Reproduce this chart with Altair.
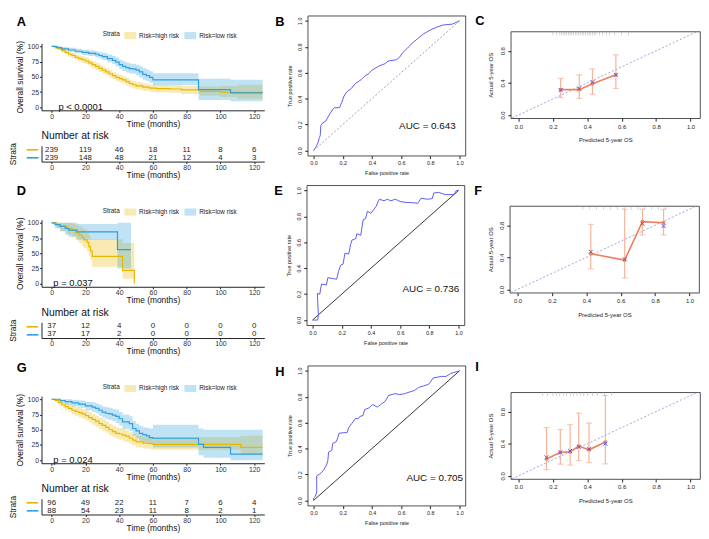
import altair as alt
import pandas as pd

FONT = "Liberation Sans"
HIGH_C = "#E7B800"
LOW_C = "#2E9FDF"
GROUPS = ["Risk=high risk", "Risk=low risk"]
TIME_TICKS = [0, 20, 40, 60, 80, 100, 120]

# ---------------- Kaplan-Meier data (time, survival %, CI low, CI high) ----------------
a_hi_t = [0, 2, 4, 6, 8, 10, 12, 14, 16, 18, 20, 22, 24, 26, 28, 30, 32, 34, 36, 38, 40, 42, 44, 46, 48, 50, 54, 58, 62, 70, 77, 88, 100, 110, 125]
a_hi_s = [100, 98, 96, 93, 90, 87, 85, 82, 80, 78, 76, 73, 70, 67, 64, 61, 58, 55, 52, 49, 47, 45, 42, 39, 37, 35, 33, 31.5, 30.5, 30, 28.5, 26, 25, 24.5, 24.5]
a_hi_lo = [100, 96, 93.5, 90, 86.5, 83, 80.5, 77, 75, 72.5, 70.5, 67.5, 64, 61, 58, 55, 52, 49, 46, 43, 41, 39, 36, 33, 31, 29, 27, 25.5, 24.5, 24, 22, 19, 17, 14, 14]
a_hi_hi = [100, 100, 98.5, 96, 93.5, 91, 89.5, 87, 85, 83.5, 81.5, 78.5, 76, 73, 70, 67, 64, 61, 58, 55, 53, 51, 48, 45, 43, 41, 39, 37.5, 36.5, 36, 35, 34, 35, 37, 37]
a_lo_t = [0, 3, 6, 10, 14, 18, 22, 26, 28, 30, 33, 36, 38, 40, 42, 44, 46, 48, 50, 52, 54, 56, 58, 60, 87, 106, 125]
a_lo_s = [100, 98, 96, 94, 92, 90, 88.5, 87, 85, 83, 80, 77, 74, 70, 67, 65, 63.5, 63, 61, 58, 54, 52, 49, 45, 29, 23.5, 23.5]
a_lo_lo = [100, 96, 93.5, 91, 88.5, 86, 84, 82, 80, 77.5, 74, 70.5, 67, 63, 59.5, 57, 55.5, 55, 52.5, 49, 45, 43, 40, 36, 12, 10, 10]
a_lo_hi = [100, 100, 99, 97.5, 96, 94.5, 93, 92, 90.5, 89, 86.5, 84, 81.5, 78, 75.5, 73.5, 72, 71.5, 70, 67.5, 64, 62, 59, 56, 47, 45, 45]

d_hi_t = [0, 3, 5, 9, 12, 14, 16, 18, 19, 21, 22, 23, 24, 42, 49]
d_hi_s = [100, 97, 94, 91, 88, 84, 80, 76, 72, 68, 61, 54, 45, 22, 0]
d_hi_lo = [100, 91, 86, 81, 77, 72, 67, 62, 58, 53, 46, 39, 28, 8, 0]
d_hi_hi = [100, 100, 100, 100, 99, 97, 94, 92, 89, 86, 80, 74, 73, 67, 0]
d_lo_t = [0, 2, 5, 8, 10, 15, 39, 47]
d_lo_s = [100, 97, 94, 91, 88, 85, 56, 56]
d_lo_lo = [100, 91, 86, 81, 77, 72, 25, 25]
d_lo_hi = [100, 100, 100, 100, 100, 98, 100, 100]

g_hi_t = [0, 2, 4, 6, 8, 10, 12, 14, 16, 18, 20, 22, 24, 26, 28, 30, 32, 34, 36, 38, 40, 42, 44, 46, 48, 50, 54, 58, 60, 112, 125]
g_hi_s = [100, 98, 95, 91, 88, 85, 82, 80, 78, 76, 73, 70, 67, 64, 60, 57, 54, 50, 47, 44, 43, 41, 39, 36, 33, 30, 28, 27, 26, 21, 21]
g_hi_lo = [100, 95, 91, 86, 82, 79, 75, 73, 70, 68, 65, 62, 58, 55, 51, 48, 45, 41, 38, 35, 34, 32, 30, 27, 24, 21, 19, 18, 17, 8, 8]
g_hi_hi = [100, 100, 99, 96, 94, 92, 89, 87, 86, 84, 82, 79, 76, 73, 70, 67, 64, 60, 57, 54, 53, 51, 49, 46, 43, 40, 38, 37, 38, 40, 40]
g_lo_t = [0, 5, 8, 12, 16, 20, 24, 26, 28, 30, 32, 34, 36, 38, 40, 42, 46, 48, 50, 52, 54, 56, 58, 60, 87, 90, 106, 125]
g_lo_s = [100, 98, 96, 94, 92, 89, 87, 85, 82, 79, 77, 76, 74, 72, 68, 63, 60, 52, 48, 44, 42, 40, 37, 36, 26, 21, 10, 10]
g_lo_lo = [100, 94, 91, 88, 86, 82, 79, 77, 73, 70, 67, 66, 64, 61, 57, 51, 48, 40, 36, 32, 30, 29, 26, 21, 8, 4, 0, 0]
g_lo_hi = [100, 100, 100, 99, 98, 96, 95, 93, 91, 88, 87, 86, 84, 83, 79, 75, 72, 64, 60, 56, 54, 53, 52, 58, 52, 50, 50, 50]

# numbers at risk
a_risk_hi = [239, 119, 46, 18, 11, 8, 6]
a_risk_lo = [239, 148, 48, 21, 12, 4, 3]
d_risk_hi = [37, 12, 4, 0, 0, 0, 0]
d_risk_lo = [37, 17, 2, 0, 0, 0, 0]
g_risk_hi = [96, 49, 22, 11, 7, 6, 4]
g_risk_lo = [88, 54, 23, 11, 8, 2, 1]

# ---------------- ROC data ----------------
b_fpr = [0, 0.018, 0.033, 0.04, 0.046, 0.05, 0.06, 0.084, 0.095, 0.116, 0.134, 0.143, 0.178, 0.193, 0.209, 0.226, 0.26, 0.29, 0.325, 0.347, 0.38, 0.40, 0.446, 0.49, 0.51, 0.567, 0.59, 0.61, 0.644, 0.677, 0.71, 0.754, 0.80, 0.84, 0.886, 0.95, 1.0]
b_tpr = [0, 0.03, 0.066, 0.10, 0.115, 0.19, 0.21, 0.226, 0.25, 0.29, 0.32, 0.33, 0.33, 0.37, 0.42, 0.45, 0.48, 0.52, 0.545, 0.57, 0.595, 0.62, 0.65, 0.67, 0.69, 0.70, 0.72, 0.755, 0.79, 0.83, 0.86, 0.90, 0.93, 0.95, 0.968, 0.975, 1.0]
e_fpr = [0, 0.035, 0.04, 0.033, 0.05, 0.055, 0.062, 0.095, 0.105, 0.14, 0.165, 0.178, 0.193, 0.209, 0.222, 0.248, 0.26, 0.27, 0.297, 0.303, 0.33, 0.347, 0.363, 0.376, 0.40, 0.435, 0.457, 0.49, 0.512, 0.536, 0.567, 0.60, 0.633, 0.688, 0.721, 0.743, 0.785, 0.82, 0.83, 0.864, 0.908, 0.969, 0.985, 1.0]
e_tpr = [0, 0, 0.036, 0.206, 0.199, 0.24, 0.278, 0.271, 0.327, 0.32, 0.315, 0.375, 0.424, 0.431, 0.516, 0.509, 0.58, 0.617, 0.629, 0.666, 0.654, 0.775, 0.782, 0.84, 0.823, 0.876, 0.932, 0.92, 0.932, 0.92, 0.932, 0.915, 0.908, 0.905, 0.901, 0.94, 0.932, 0.937, 0.98, 0.985, 0.968, 0.968, 1.0, 1.0]
h_fpr = [0, 0, 0.011, 0.022, 0.022, 0.022, 0.044, 0.066, 0.088, 0.098, 0.103, 0.125, 0.131, 0.153, 0.164, 0.175, 0.208, 0.23, 0.24, 0.263, 0.285, 0.306, 0.317, 0.339, 0.35, 0.383, 0.405, 0.438, 0.46, 0.49, 0.514, 0.558, 0.591, 0.624, 0.656, 0.69, 0.72, 0.755, 0.788, 0.82, 0.853, 0.875, 0.908, 0.94, 1.0]
h_tpr = [0, 0.017, 0.029, 0.065, 0.125, 0.19, 0.205, 0.229, 0.27, 0.306, 0.373, 0.386, 0.44, 0.45, 0.475, 0.518, 0.523, 0.523, 0.56, 0.595, 0.631, 0.631, 0.648, 0.655, 0.70, 0.716, 0.74, 0.72, 0.74, 0.764, 0.81, 0.824, 0.817, 0.824, 0.836, 0.848, 0.872, 0.884, 0.896, 0.945, 0.952, 0.957, 0.957, 0.98, 1.0]
diag_line = [0, 1]

# ---------------- Calibration data ----------------
c_pred = [0.245, 0.353, 0.43, 0.566]
c_obs = [0.316, 0.316, 0.39, 0.50]
c_corr = [0.31, 0.33, 0.41, 0.50]
c_lo = [0.217, 0.205, 0.257, 0.33]
c_hi = [0.455, 0.50, 0.573, 0.75]
c_rug = [0.20, 0.22, 0.24, 0.25, 0.26, 0.27, 0.28, 0.29, 0.30, 0.31, 0.32, 0.33, 0.34, 0.35, 0.36, 0.37, 0.38, 0.39, 0.40, 0.41, 0.42, 0.43, 0.44, 0.45, 0.47, 0.49, 0.51, 0.53, 0.56, 0.60, 0.64]
f_pred = [0.426, 0.623, 0.726, 0.849]
f_obs = [0.445, 0.366, 0.845, 0.83]
f_corr = [0.47, 0.377, 0.82, 0.79]
f_lo = [0.257, 0.143, 0.68, 0.68]
f_hi = [0.81, 1.0, 1.0, 1.0]
f_rug = [0.38, 0.42, 0.46, 0.50, 0.54, 0.58, 0.62, 0.66, 0.70, 0.74, 0.78, 0.82, 0.86]
i_pred = [0.163, 0.243, 0.30, 0.35, 0.41, 0.505]
i_obs = [0.21, 0.294, 0.298, 0.37, 0.324, 0.42]
i_corr = [0.23, 0.29, 0.31, 0.36, 0.336, 0.40]
i_lo = [0.076, 0.145, 0.134, 0.19, 0.164, 0.149]
i_hi = [0.60, 0.576, 0.637, 0.78, 0.656, 1.0]
i_rug = [0.14, 0.17, 0.20, 0.22, 0.24, 0.26, 0.28, 0.30, 0.32, 0.34, 0.36, 0.38, 0.40, 0.43, 0.46, 0.50, 0.54]
cal_diag = [-0.1, 1.1]

# ---------------- sizes ----------------
KM_W, KM_H = 226, 68
RISK_H = 16
ROC_W, ROC_H = 160, 142
CAL_W, CAL_H = 192, 88

x_km = alt.Scale(domain=[-6, 126], nice=False, zero=False)
y_km = alt.Scale(domain=[-5, 105], nice=False, zero=False)


def ind(c):
    return c.resolve_scale(fill="independent", stroke="independent").resolve_legend(
        fill="independent", stroke="independent")


def spacer():
    return alt.Chart(pd.DataFrame({"v": [0]})).mark_point(opacity=0, size=1).encode(
        x=alt.value(0), y=alt.value(0)).properties(width=1, height=1)


def letter_title(letter, dx, dy=0, offset=4):
    return alt.TitleParams(letter, anchor="start", frame="group", dx=dx, dy=dy, offset=offset,
                           fontSize=13, fontWeight="bold", font=FONT, color="#000")


def km_axis_x():
    return alt.Axis(values=TIME_TICKS, title="Time (months)", labelFontSize=7, titleFontSize=8.5,
                    tickSize=2, labelPadding=0, titlePadding=0, grid=False, domainColor="#222",
                    tickColor="#222", labelColor="#333", titleColor="#111", titleFontWeight="normal")


def km_axis_y():
    return alt.Axis(values=[0, 25, 50, 75, 100], title="Overall survival (%)", labelFontSize=7,
                    titleFontSize=8.5, tickSize=2, labelPadding=1, titlePadding=3, grid=False,
                    domainColor="#222", tickColor="#222", labelColor="#333", titleColor="#111",
                    titleFontWeight="normal")


def km_frame(hi, lo):
    rows = []
    for g, (ts, ss, ls, hs) in zip(GROUPS, [hi, lo]):
        for t, s, l, h in zip(ts, ss, ls, hs):
            rows.append({"group": g, "t": t, "s": s, "lo": l, "hi": h})
    return pd.DataFrame(rows)


LEG = dict(orient="none", legendX=62, legendY=-14, direction="horizontal", titleOrient="left",
           title="Strata", titleFontSize=6.5, titleFontWeight="normal", labelFontSize=6.5,
           columnPadding=5, titlePadding=4, labelOffset=3, symbolSize=144, labelColor="#222",
           titleColor="#222")


def km_chart(letter, hi, lo, pval, pval_x, tdy):
    df = km_frame(hi, lo)
    base = alt.Chart(df)
    x = alt.X("t:Q", scale=x_km, axis=km_axis_x())
    band = base.mark_area(interpolate="step-after", opacity=0.3).encode(
        x=x,
        y=alt.Y("lo:Q", scale=y_km, axis=km_axis_y()),
        y2="hi:Q",
        fill=alt.Fill("group:N", scale=alt.Scale(domain=GROUPS, range=[HIGH_C, LOW_C]),
                      legend=alt.Legend(symbolType="M-1,-0.6H1V0.6H-1Z", symbolOpacity=0.3,
                                        symbolStrokeWidth=0, **LEG)),
    )
    line = base.mark_line(interpolate="step-after", strokeWidth=1.2).encode(
        x=x,
        y=alt.Y("s:Q", scale=y_km, axis=km_axis_y()),
        stroke=alt.Stroke("group:N", scale=alt.Scale(domain=GROUPS, range=[HIGH_C, LOW_C]),
                          legend=alt.Legend(symbolType="M-1,0H1", symbolStrokeWidth=1.5, **LEG)),
    )
    ptxt = alt.Chart(pd.DataFrame({"t": [pval_x], "s": [1], "label": [pval]})).mark_text(
        align="left", baseline="middle", fontSize=9.5, font=FONT, color="#111"
    ).encode(x=alt.X("t:Q", scale=x_km, axis=km_axis_x()),
             y=alt.Y("s:Q", scale=y_km, axis=km_axis_y()), text="label:N")
    return alt.layer(band, line, ptxt).properties(
        width=KM_W, height=KM_H, title=letter_title(letter, dx=-25, dy=tdy))


def risk_chart(hi_n, lo_n):
    df = pd.DataFrame({"group": [GROUPS[0]] * 7 + [GROUPS[1]] * 7,
                       "t": TIME_TICKS * 2, "n": hi_n + lo_n})
    return alt.Chart(df).mark_text(fontSize=8, font=FONT, color="#222").encode(
        x=alt.X("t:Q", scale=x_km, axis=km_axis_x()),
        y=alt.Y("group:N", scale=alt.Scale(domain=GROUPS, padding=0.5),
                axis=alt.Axis(title="Strata", labelExpr="'━━'",
                              labelColor=alt.condition(f"datum.value == '{GROUPS[0]}'",
                                                       alt.value(HIGH_C), alt.value(LOW_C)),
                              labelFont="DejaVu Sans", labelFontSize=9.5, labelFontWeight="bold",
                              ticks=False, labelPadding=4, titleFontSize=8.5,
                              titleFontWeight="normal", titlePadding=9, domainColor="#222",
                              titleColor="#111")),
        text="n:Q",
    ).properties(width=KM_W, height=RISK_H,
                 title=alt.TitleParams("Number at risk", anchor="start", frame="group",
                                       fontSize=10.5, fontWeight="normal", offset=1,
                                       font=FONT, color="#111"))


r_scale = alt.Scale(domain=[-0.04, 1.04], nice=False, zero=False)


def small_axis(title, vertical, size=5.5, tpad=5):
    return alt.Axis(values=[0, 0.2, 0.4, 0.6, 0.8, 1.0], format=".1f", title=title,
                    labelFontSize=size, titleFontSize=size, titleFontWeight="normal", tickSize=3,
                    domain=False, grid=False, labelPadding=2, titlePadding=tpad,
                    labelAngle=270 if vertical else 0, tickColor="#222", labelColor="#222",
                    titleColor="#222")


def roc_chart(letter, fpr, tpr, auc, auc_x, auc_y, diag_color, dashed):
    df = pd.DataFrame({"fpr": fpr, "tpr": tpr, "i": list(range(len(fpr)))})
    ddf = pd.DataFrame({"fpr": diag_line, "tpr": diag_line})
    x = alt.X("fpr:Q", scale=r_scale, axis=small_axis("False positive rate", False))
    y = alt.Y("tpr:Q", scale=r_scale, axis=small_axis("True positive rate", True))
    dkw = dict(color=diag_color, strokeWidth=0.8)
    if dashed:
        dkw["strokeDash"] = [2, 2]
    d = alt.Chart(ddf).mark_line(**dkw).encode(x=x, y=y)
    ln = alt.Chart(df).mark_line(color="#5C5CF5", strokeWidth=1).encode(x=x, y=y, order="i:Q")
    t = alt.Chart(pd.DataFrame({"fpr": [auc_x], "tpr": [auc_y], "label": [f"AUC = {auc}"]})).mark_text(
        fontSize=10, font=FONT, color="#111").encode(x=x, y=y, text="label:N")
    return alt.layer(d, ln, t).properties(
        width=ROC_W, height=ROC_H, view=alt.ViewBackground(stroke="#222", strokeWidth=0.8),
        title=letter_title(letter, dx=-33, offset=-13))


cx_scale = alt.Scale(domain=[-0.045, 1.055], nice=False, zero=False)
cy_scale = alt.Scale(domain=[-0.04, 1.04], nice=False, zero=False)
ERR_C = "#F6B29A"
LINE_C = "#F07F5A"


def cal_chart(letter, pred, obs, corr, lo, hi, rug, toff):
    df = pd.DataFrame({"pred": pred, "obs": obs, "corr": corr, "lo": lo, "hi": hi})
    xa = small_axis("Predicted 5-year OS", False, size=6, tpad=8)
    ya = small_axis("Actual 5-year OS", True, size=6, tpad=6)

    def X(f):
        return alt.X(f, scale=cx_scale, axis=xa)

    def Y(f):
        return alt.Y(f, scale=cy_scale, axis=ya)

    diag = alt.Chart(pd.DataFrame({"pred": cal_diag, "obs": cal_diag})).mark_line(
        clip=True, color="#8C9BD9", strokeDash=[2, 2], strokeWidth=0.9).encode(x=X("pred:Q"), y=Y("obs:Q"))
    base = alt.Chart(df)
    err = base.mark_rule(color=ERR_C, strokeWidth=1.2).encode(x=X("pred:Q"), y=Y("lo:Q"), y2="hi:Q")
    cap_lo = base.mark_tick(orient="horizontal", color=ERR_C, size=6, thickness=1.2).encode(
        x=X("pred:Q"), y=Y("lo:Q"))
    cap_hi = base.mark_tick(orient="horizontal", color=ERR_C, size=6, thickness=1.2).encode(
        x=X("pred:Q"), y=Y("hi:Q"))
    ln = base.mark_line(color=LINE_C, strokeWidth=1.6).encode(x=X("pred:Q"), y=Y("obs:Q"))
    dots = base.mark_point(filled=True, shape="square", size=10, color=LINE_C, opacity=1).encode(
        x=X("pred:Q"), y=Y("obs:Q"))
    xs = base.mark_point(shape="M-1,-1L1,1M-1,1L1,-1", size=16, color="#5A5AE8", strokeWidth=1,
                         filled=False, opacity=1).encode(x=X("pred:Q"), y=Y("corr:Q"))
    rugc = alt.Chart(pd.DataFrame({"pred": rug})).mark_tick(
        orient="vertical", size=4, thickness=0.6, color="#999").encode(x=X("pred:Q"), y=alt.datum(1.018))
    return alt.layer(diag, err, cap_lo, cap_hi, ln, dots, xs, rugc).properties(
        width=CAL_W, height=CAL_H, view=alt.ViewBackground(stroke="#222", strokeWidth=0.8),
        title=letter_title(letter, dx=-36, offset=toff))


def row(km, risk, roc, cal, roc_gap):
    col1 = ind(alt.vconcat(spacer(), ind(alt.vconcat(km, risk, spacing=2)), spacing=0))
    col2 = ind(alt.vconcat(spacer(), roc, spacing=roc_gap))
    col3 = ind(alt.vconcat(spacer(), cal, spacing=0))
    return ind(alt.hconcat(col1, col2, col3, spacing=8))


row1 = row(km_chart("A", (a_hi_t, a_hi_s, a_hi_lo, a_hi_hi), (a_lo_t, a_lo_s, a_lo_lo, a_lo_hi), "p < 0.0001", 4, 3),
           risk_chart(a_risk_hi, a_risk_lo),
           roc_chart("B", b_fpr, b_tpr, "0.643", 0.78, 0.19, "#888", True),
           cal_chart("C", c_pred, c_obs, c_corr, c_lo, c_hi, c_rug, 3), 0)
row2 = row(km_chart("D", (d_hi_t, d_hi_s, d_hi_lo, d_hi_hi), (d_lo_t, d_lo_s, d_lo_lo, d_lo_hi), "p = 0.037", 1, -4),
           risk_chart(d_risk_hi, d_risk_lo),
           roc_chart("E", e_fpr, e_tpr, "0.736", 0.81, 0.24, "#000", False),
           cal_chart("F", f_pred, f_obs, f_corr, f_lo, f_hi, f_rug, 8), 0)
row3 = row(km_chart("G", (g_hi_t, g_hi_s, g_hi_lo, g_hi_hi), (g_lo_t, g_lo_s, g_lo_lo, g_lo_hi), "p = 0.024", 1, -4),
           risk_chart(g_risk_hi, g_risk_lo),
           roc_chart("H", h_fpr, h_tpr, "0.705", 0.83, 0.17, "#000", False),
           cal_chart("I", i_pred, i_obs, i_corr, i_lo, i_hi, i_rug, 18), 4)

chart = ind(alt.vconcat(row1, row2, row3, spacing=2)).properties(
    padding={"left": 0, "top": 0, "right": 0, "bottom": 0}
).configure(font=FONT).configure_view(stroke="transparent").configure_axis(
    labelFont=FONT, titleFont=FONT).configure_legend(labelFont=FONT, titleFont=FONT).configure_title(font=FONT)

chart.save("out.html", embed_options={"renderer": "svg", "actions": False})
